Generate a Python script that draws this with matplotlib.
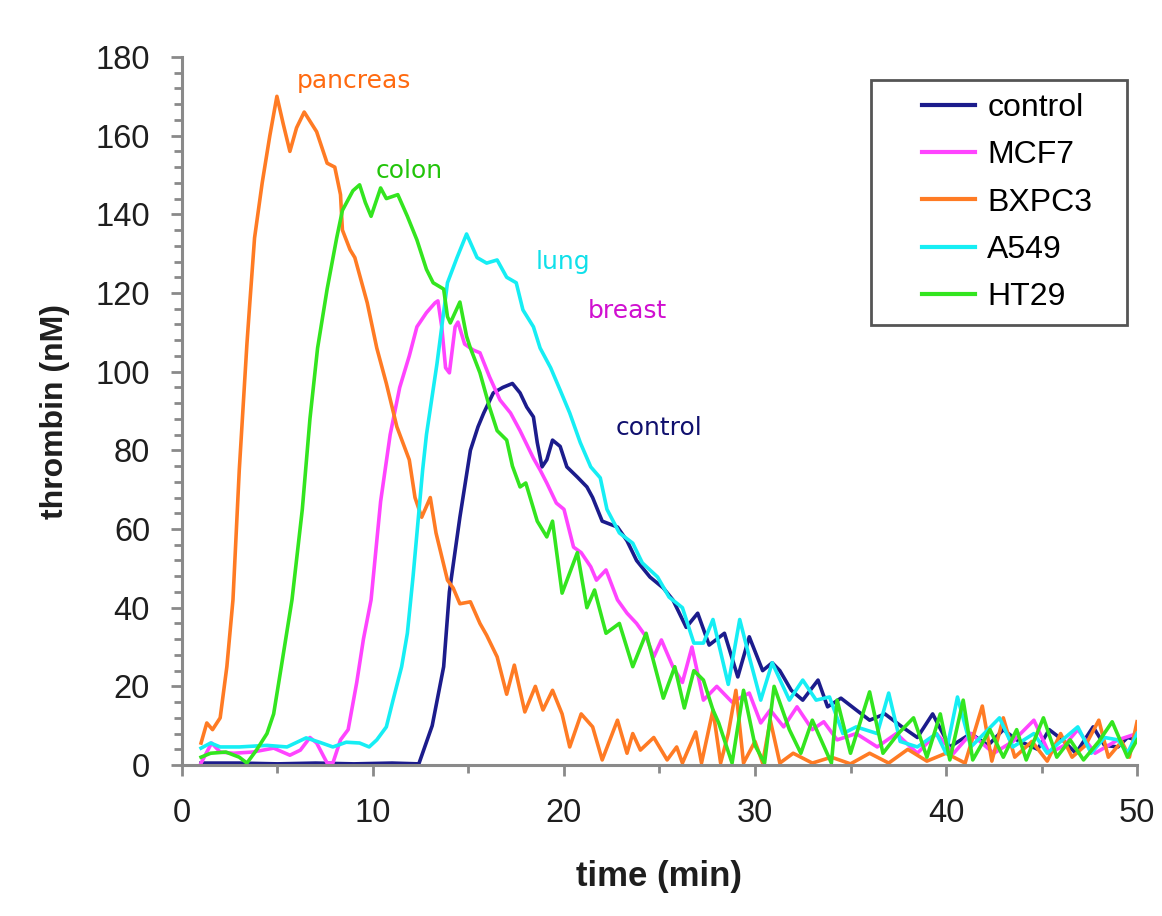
import matplotlib
matplotlib.use("Agg")
import matplotlib.pyplot as plt
import matplotlib.patches as mpatches
from matplotlib.ticker import MultipleLocator

# thrombin generation curves
control_t = [1, 3, 5, 7, 9, 11, 12.4, 13.1, 13.7, 14.0, 14.55, 15.1, 15.5, 15.8, 16.3, 16.8,
             17.3, 17.7, 18.05, 18.4, 18.6, 18.85, 19.1, 19.4, 19.8, 20.15, 20.7, 21.2, 21.5,
             22.0, 22.8, 23.3, 23.8, 24.5, 25.2, 25.7, 26.4, 27.0, 27.6, 28.4, 29.1, 29.7,
             30.4, 30.9, 31.3, 31.9, 32.5, 33.3, 33.8, 34.5, 35.3, 36.0, 36.8, 37.7, 38.5,
             39.3, 40.2, 41.3, 42.2, 43.0, 43.7, 44.8, 45.4, 46.1, 46.8, 47.7, 48.3, 49.0,
             49.5, 50]
control_y = [0.5, 0.5, 0.3, 0.5, 0.3, 0.5, 0.3, 10, 25, 44, 63, 80, 86, 89.5, 94.6, 96,
             97, 94.6, 91, 88.5, 82, 75.8, 77.6, 82.6, 81, 75.8, 73.2, 70.7, 68,
             62, 60.5, 57, 52, 47.8, 45, 42, 35, 38.6, 30.5, 33.5, 22.4, 32.6,
             24, 26, 24, 19, 16.5, 21.6, 14.8, 17, 14, 11.4, 13, 9.7, 7,
             13, 4.6, 8, 5, 9, 6.4, 4, 9, 6.4, 3, 9.7, 5, 4.6,
             7, 6.4]

mcf7_t = [1, 1.55, 2, 2.7, 3.7, 4.8, 5.65, 6.2, 6.7, 7.05, 7.6, 7.9, 8.3, 8.7, 9.15, 9.5,
          9.9, 10.4, 10.9, 11.4, 11.9, 12.3, 12.8, 13.25, 13.4, 13.6, 13.8, 14.0, 14.3,
          14.45, 14.8, 15.25, 15.6, 16.1, 16.65, 17.2, 17.7, 18.4, 18.75, 19.1, 19.6, 20.0,
          20.5, 20.9, 21.4, 21.7, 22.2, 22.8, 23.3, 23.8, 24.3, 24.7, 25.1, 25.7, 26.2,
          26.7, 27.3, 28.0, 28.8, 29.7, 30.3, 30.8, 31.5, 32.2, 33.0, 33.6, 34.3, 35.3,
          36.4, 37.4, 38.5, 39.5, 40.4, 41.3, 42.5, 43.5, 44.6, 45.4, 46.2, 46.9, 47.8,
          49.0, 50]
mcf7_y = [0.5, 5.6, 3.3, 3, 3.3, 4.3, 2.5, 3.8, 7, 5.6, 0.5, 0.5, 6.4, 9, 21, 32,
          42, 67, 84, 96, 104, 111.4, 115, 117.5, 118, 111.4, 101, 99.7, 111.4,
          112.6, 107, 105.5, 104.8, 98.7, 92.8, 89.5, 85, 78, 75, 71.7, 66.6, 65,
          55.4, 54, 50.4, 47, 49.6, 42, 38.6, 36, 32.6, 27.5, 31.8, 25, 21,
          30, 16.5, 20, 16, 18.3, 10.7, 14, 9.7, 14.8, 9, 11, 6.4, 8,
          4.6, 8, 3, 8, 3, 8, 3, 6, 11.4, 3, 5, 9, 3,
          6.4, 8]

bxpc3_t = [1, 1.3, 1.6, 2.0, 2.35, 2.67, 3.0, 3.4, 3.56, 3.8, 4.2, 4.6, 4.97, 5.3, 5.65,
           6.0, 6.4, 7.05, 7.6, 8.0, 8.3, 8.4, 8.8, 9.05, 9.7, 10.2, 10.7, 11.25, 11.9,
           12.2, 12.55, 13.0, 13.3, 13.9, 14.2, 14.55, 15.1, 15.6, 15.95, 16.5, 17.0, 17.4,
           17.95, 18.5, 18.9, 19.4, 19.9, 20.3, 20.9, 21.5, 22.0, 22.8, 23.3, 23.6, 24.0,
           24.7, 25.4, 25.9, 26.2, 26.9, 27.2, 27.8, 28.2, 28.6, 29.0, 29.4, 30.0, 30.4,
           30.8, 31.3, 32.0, 33, 34, 35, 36, 37, 38, 39, 40, 41, 41.9, 42.4, 43.0, 43.6,
           44.5, 45.3, 46, 46.6, 47.3, 48.0, 48.5, 49.2, 49.6, 50]
bxpc3_y = [5.6, 10.7, 9, 12, 25, 42, 75, 107, 118, 134, 148, 160, 170, 163, 156,
           162, 166, 161, 153, 152, 145, 136, 131, 129, 117.5, 106, 97, 86, 77.6,
           68, 63, 68, 59, 47, 45, 41, 41.5, 36, 33, 27.5, 18, 25.4,
           13.5, 20, 14, 19, 13, 4.6, 13, 9.7, 1.3, 11.4, 3, 8, 3.8,
           7, 1.3, 4.6, 0.5, 8.4, 0.5, 14, 0.5, 8, 19, 0.5, 6, 0.5,
           11.4, 0.5, 3, 0.5, 2, 0.3, 3, 0.5, 4, 1, 3, 0.5, 15, 1, 12, 2,
           6, 1, 8, 2, 5, 11.4, 2, 6, 2, 11]

a549_t = [1, 1.5, 2, 3, 4.45, 5.5, 6.5, 7.2, 7.9, 8.6, 9.3, 9.8, 10.2, 10.7, 11.05, 11.5,
          11.8, 12.1, 12.6, 12.8, 13.35, 13.9, 14.4, 14.9, 15.45, 15.95, 16.5, 17.0, 17.5,
          17.85, 18.4, 18.75, 19.3, 19.8, 20.3, 20.85, 21.4, 21.9, 22.25, 22.9, 23.6, 24.1,
          24.9, 25.5, 26.2, 26.8, 27.3, 27.8, 28.6, 29.2, 29.7, 30.3, 30.9, 31.8, 32.5,
          33.2, 33.9, 34.6, 35.3, 36.4, 37.0, 37.6, 38.5, 39.5, 40.0, 40.6, 41.3, 42.0,
          42.8, 43.5, 44.6, 45.3, 46.0, 46.9, 47.6, 48.3, 49.0, 49.5, 50]
a549_y = [4.3, 5.6, 4.6, 4.6, 5, 4.6, 6.9, 5.8, 4.6, 5.8, 5.6, 4.6, 6.4, 9.7, 16.5, 25,
          33.5, 48, 75, 84, 102, 122.6, 129, 135, 129, 127.6, 128.4, 124, 122.6,
          115.7, 111.4, 106, 101, 95.3, 89.5, 82, 75.8, 73, 65, 59, 56.4, 51.4,
          47.8, 42.7, 40, 31, 31, 37, 20.5, 37, 27.5, 16.5, 26, 16.5, 21.6,
          16.5, 17.3, 8, 9.7, 8, 18.3, 6, 4.6, 8, 3, 17.3, 4.6, 8,
          12, 4.6, 8, 3, 6, 9.7, 3, 7, 6.4, 3, 8]

ht29_t = [1, 1.5, 2.3, 3.0, 3.4, 3.9, 4.45, 4.8, 5.2, 5.76, 6.3, 6.7, 7.1, 7.6, 8.1, 8.4,
          8.95, 9.3, 9.6, 9.9, 10.4, 10.7, 11.3, 11.8, 12.3, 12.8, 13.15, 13.7, 13.9, 14.05,
          14.55, 14.9, 15.1, 15.6, 16.1, 16.5, 17.0, 17.3, 17.7, 18.0, 18.6, 19.1, 19.4,
          19.9, 20.7, 21.2, 21.6, 22.2, 22.9, 23.6, 24.3, 25.2, 25.8, 26.3, 26.8, 27.3,
          27.8, 28.1, 28.8, 29.4, 30.0, 30.5, 31.0, 31.8, 32.4, 33.0, 34.0, 34.3, 35.0,
          36.0, 36.7, 37.5, 38.3, 39.0, 39.7, 40.2, 40.9, 41.4, 42.3, 43.0, 43.7, 44.2,
          45.1, 45.8, 46.5, 47.2, 48.0, 48.7, 49.5, 50]
ht29_y = [2, 3, 3.3, 2, 0.5, 3.8, 8, 13, 25, 42, 65, 88, 106, 121, 134, 141,
          146, 147.5, 143, 139.5, 146.7, 144, 145, 139.5, 133.5, 126, 122.6, 121, 114, 112.4,
          117.7, 109, 106, 99.7, 91, 85, 82.6, 76, 70.7, 71.7, 62, 58, 62,
          43.7, 54, 40, 44.5, 33.5, 36, 25, 33.5, 17, 25, 14.5, 24, 21.6,
          14, 10.7, 0.5, 19, 5, 0.5, 20, 9, 3, 11.4, 0.5, 16.5, 3,
          18.6, 3, 8, 12, 2, 13, 1.3, 16.5, 1.3, 9, 2, 9, 1.3,
          12, 2, 6.4, 1.3, 6, 11, 2, 6.4]

SERIES = [
    ("control", control_t, control_y, "#1c1c8c"),
    ("MCF7", mcf7_t, mcf7_y, "#ff44ff"),
    ("BXPC3", bxpc3_t, bxpc3_y, "#ff7b24"),
    ("A549", a549_t, a549_y, "#16eef4"),
    ("HT29", ht29_t, ht29_y, "#33e51f"),
]

# in-plot labels: text, x, y, colour
LABELS = [
    ("pancreas", 6.0, 174, "#ff6a10"),
    ("colon", 10.15, 151, "#22c40a"),
    ("lung", 18.5, 128, "#10e0ea"),
    ("breast", 21.25, 115.5, "#d010d0"),
    ("control", 22.7, 85.7, "#10106e"),
]

AXIS_GRAY = "#8a8a8a"
TEXT_DARK = "#1e1e1e"

plt.rcParams["font.family"] = ["Liberation Sans", "DejaVu Sans"]

fig = plt.figure(figsize=(11.62, 9.16), dpi=100)
ax = fig.add_axes([0.1566, 0.1648, 0.9785 - 0.1566, 0.9378 - 0.1648])

for name, t, y, color in SERIES:
    ax.plot(t, y, color=color, linewidth=2.6, label=name, solid_joinstyle="round")

for text, x, y, color in LABELS:
    ax.text(x, y, text, color=color, fontsize=18, family="DejaVu Sans",
            va="center", ha="left")

ax.set_xlim(0, 50)
ax.set_ylim(0, 180)
ax.xaxis.set_major_locator(MultipleLocator(10))
ax.xaxis.set_minor_locator(MultipleLocator(5))
ax.yaxis.set_major_locator(MultipleLocator(20))
ax.yaxis.set_minor_locator(MultipleLocator(4))

for side in ("top", "right"):
    ax.spines[side].set_visible(False)
for side in ("left", "bottom"):
    ax.spines[side].set_color(AXIS_GRAY)
    ax.spines[side].set_linewidth(2.2)

ax.tick_params(which="major", direction="out", length=8, width=2, color=AXIS_GRAY,
               labelsize=23.5, labelcolor=TEXT_DARK)
ax.tick_params(which="minor", direction="out", length=6, width=2, color=AXIS_GRAY)
ax.tick_params(axis="y", which="major", pad=15)
ax.tick_params(axis="x", which="major", pad=16)

ax.set_xlabel("time (min)", fontsize=25, fontweight="bold", color=TEXT_DARK, labelpad=22)
ax.set_ylabel("thrombin (nM)", fontsize=23, fontweight="bold", color=TEXT_DARK, labelpad=18)

# legend frame drawn separately: the original box has a wide left margin
frame = mpatches.Rectangle((0.721, 0.6215), 0.99 - 0.721, 0.9675 - 0.6215,
                           transform=ax.transAxes, facecolor="white", edgecolor="#555555",
                           linewidth=2, zorder=5, clip_on=False)
ax.add_patch(frame)
leg = ax.legend(loc="upper left", bbox_to_anchor=(0.775, 0.949), fontsize=23,
                frameon=False, handlelength=1.66, handletextpad=0.38,
                labelspacing=0.54, borderpad=0, borderaxespad=0)
leg.set_zorder(6)
for line in leg.get_lines():
    line.set_linewidth(3)

fig.savefig("out.png", dpi=100)
